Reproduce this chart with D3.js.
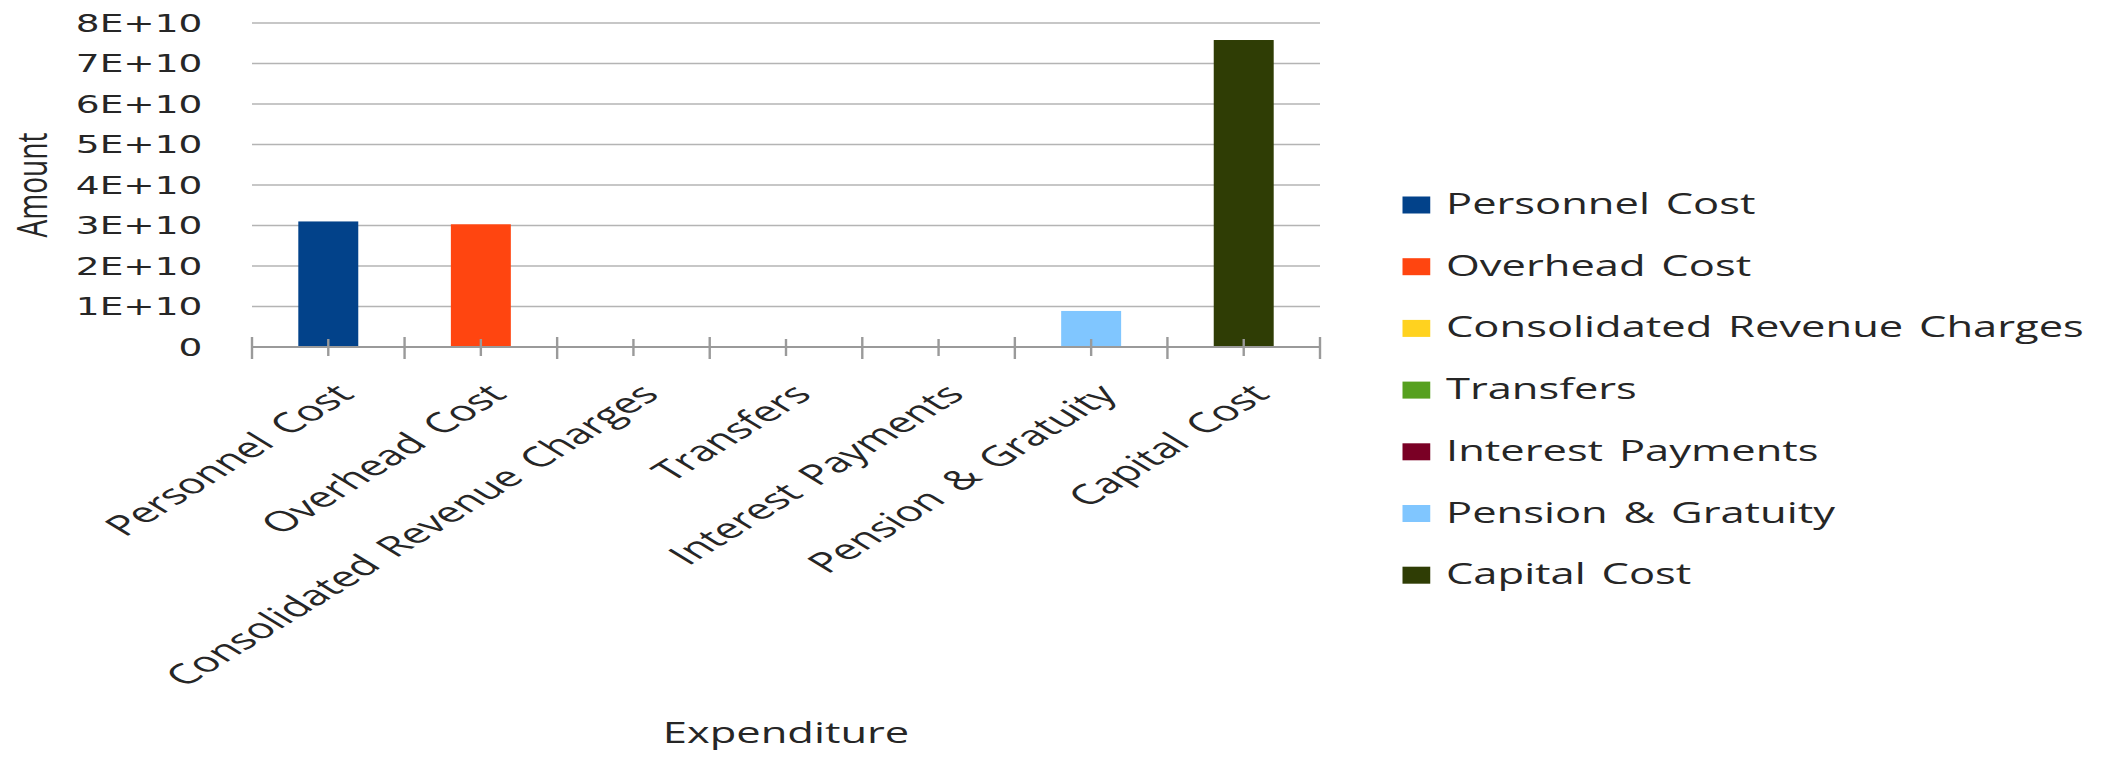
<!DOCTYPE html>
<html>
<head>
<meta charset="utf-8">
<script src="https://cdn.jsdelivr.net/npm/d3@7"></script>
<style>
  html, body { margin: 0; padding: 0; background: #ffffff; }
  svg { display: block; }
</style>
</head>
<body>
<svg id="chart" width="2115" height="757"></svg>
<script>
// ---- data ----
const categories = ["Personnel Cost", "Overhead Cost", "Consolidated Revenue Charges", "Transfers", "Interest Payments", "Pension & Gratuity", "Capital Cost"];
const amounts = [3.1e10, 3.03e10, 0, 0, 0, 8.9e9, 7.58e10];
const seriesColors = ["#02428a", "#ff4510", "#ffd21f", "#56a01f", "#7a0025", "#80c6ff", "#2f3d05"];
const yTickValues = [0, 1e10, 2e10, 3e10, 4e10, 5e10, 6e10, 7e10, 8e10];
const yTickLabels = ["0", "1E+10", "2E+10", "3E+10", "4E+10", "5E+10", "6E+10", "7E+10", "8E+10"];
const xTitle = "Expenditure";
const yTitle = "Amount";

// ---- layout (unstretched coordinates, whole chart is stretched horizontally) ----
const SX = 1.5;
const plot = { left: 168, right: 880, top: 23, bottom: 347 };
const textColor = "#262626";

const svg = d3.select("#chart");
const g = svg.append("g").attr("transform", `scale(${SX},1)`);

const x = d3.scaleBand()
  .domain(categories)
  .range([plot.left, plot.right])
  .paddingInner(0.607)
  .paddingOuter(0.3035);

const y = d3.scaleLinear()
  .domain([0, 8e10])
  .range([plot.bottom, plot.top]);

// gridlines
g.append("g").selectAll("line")
  .data(yTickValues.filter(d => d > 0))
  .join("line")
  .attr("x1", plot.left).attr("x2", plot.right)
  .attr("y1", d => y(d)).attr("y2", d => y(d))
  .attr("stroke", "#b4b4b4").attr("stroke-width", 1.6);

// y tick labels
g.append("g").selectAll("text")
  .data(yTickValues)
  .join("text")
  .attr("x", plot.left - 33)
  .attr("y", d => y(d))
  .attr("dy", "0.36em")
  .attr("text-anchor", "end")
  .attr("font-family", "DejaVu Sans")
  .attr("font-size", 25)
  .attr("fill", textColor)
  .text((d, i) => yTickLabels[i]);

// bars
g.append("g").selectAll("rect")
  .data(categories)
  .join("rect")
  .attr("x", d => x(d))
  .attr("width", x.bandwidth())
  .attr("y", (d, i) => y(amounts[i]))
  .attr("height", (d, i) => y(0) - y(amounts[i]))
  .attr("fill", (d, i) => seriesColors[i]);

// x axis line
g.append("line")
  .attr("x1", plot.left).attr("x2", plot.right)
  .attr("y1", y(0)).attr("y2", y(0))
  .attr("stroke", "#9a9a9a").attr("stroke-width", 2);

// boundary ticks
const step = x.step();
const boundaries = d3.range(categories.length + 1).map(i => plot.left + i * step);
g.append("g").selectAll("line")
  .data(boundaries)
  .join("line")
  .attr("x1", d => d).attr("x2", d => d)
  .attr("y1", y(0) - 10).attr("y2", y(0) + 12)
  .attr("stroke", "#9a9a9a").attr("stroke-width", 1.6);

// center ticks
g.append("g").selectAll("line")
  .data(categories)
  .join("line")
  .attr("x1", d => x(d) + x.bandwidth() / 2).attr("x2", d => x(d) + x.bandwidth() / 2)
  .attr("y1", y(0) - 8).attr("y2", y(0) + 9)
  .attr("stroke", "#9a9a9a").attr("stroke-width", 1.6);

// x tick labels rotated
g.append("g").selectAll("text")
  .data(categories)
  .join("text")
  .attr("transform", d => `translate(${x(d) + x.bandwidth() / 2 + 18.3},${y(0) + 49}) scale(1.087,1) rotate(-45)`)
  .attr("text-anchor", "end")
  .attr("font-family", "Open Sans")
  .attr("font-size", 28)
  .attr("word-spacing", 4)
  .attr("fill", textColor)
  .text(d => d);

// axis titles
g.append("text")
  .attr("transform", `translate(31,${(plot.top + plot.bottom) / 2}) rotate(-90)`)
  .attr("text-anchor", "middle")
  .attr("font-family", "Open Sans")
  .attr("font-size", 28)
  .attr("fill", textColor)
  .text(yTitle);

g.append("text")
  .attr("x", (plot.left + plot.right) / 2)
  .attr("y", 743)
  .attr("text-anchor", "middle")
  .attr("font-family", "Open Sans")
  .attr("font-size", 29)
  .attr("fill", textColor)
  .text(xTitle);

// legend
const legend = g.append("g");
const legendRows = legend.selectAll("g")
  .data(categories)
  .join("g")
  .attr("transform", (d, i) => `translate(935,${205 + i * 61.7})`);
legendRows.append("rect")
  .attr("x", 0).attr("y", -8.5)
  .attr("width", 18.5).attr("height", 17)
  .attr("fill", (d, i) => seriesColors[i]);
legendRows.append("text")
  .attr("x", 29).attr("y", 9)
  .attr("font-family", "Open Sans")
  .attr("font-size", 29)
  .attr("word-spacing", 3)
  .attr("fill", textColor)
  .text(d => d);
</script>
</body>
</html>
